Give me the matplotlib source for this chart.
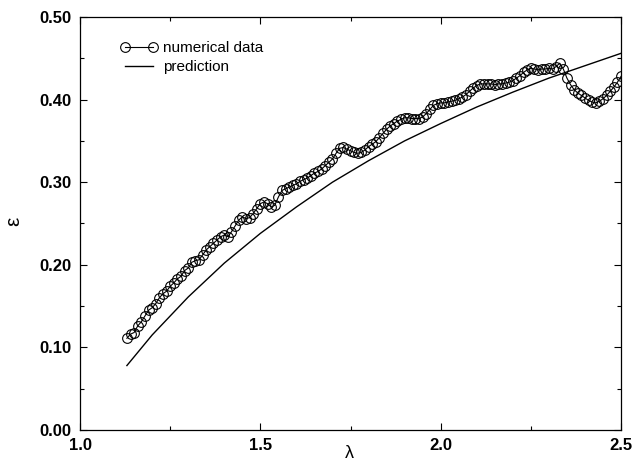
import matplotlib
matplotlib.use("Agg")
import matplotlib.pyplot as plt
from matplotlib.ticker import MultipleLocator, FormatStrFormatter

# numerical data (lambda, epsilon)
lam_data = [1.13, 1.14, 1.15, 1.16, 1.17, 1.18, 1.19, 1.20, 1.21, 1.22, 1.23, 1.24, 1.25, 1.26,
            1.27, 1.28, 1.29, 1.30, 1.31, 1.32, 1.33, 1.34, 1.35, 1.36, 1.37, 1.38, 1.39, 1.40,
            1.41, 1.42, 1.43, 1.44, 1.45, 1.46, 1.47, 1.48, 1.49, 1.50, 1.51, 1.52, 1.53, 1.54,
            1.55, 1.56, 1.57, 1.58, 1.59, 1.60, 1.61, 1.62, 1.63, 1.64, 1.65, 1.66, 1.67, 1.68,
            1.69, 1.70, 1.71, 1.72, 1.73, 1.74, 1.75, 1.76, 1.77, 1.78, 1.79, 1.80, 1.81, 1.82,
            1.83, 1.84, 1.85, 1.86, 1.87, 1.88, 1.89, 1.90, 1.91, 1.92, 1.93, 1.94, 1.95, 1.96,
            1.97, 1.98, 1.99, 2.00, 2.01, 2.02, 2.03, 2.04, 2.05, 2.06, 2.07, 2.08, 2.09, 2.10,
            2.11, 2.12, 2.13, 2.14, 2.15, 2.16, 2.17, 2.18, 2.19, 2.20, 2.21, 2.22, 2.23, 2.24,
            2.25, 2.26, 2.27, 2.28, 2.29, 2.30, 2.31, 2.32, 2.33, 2.34, 2.35, 2.36, 2.37, 2.38,
            2.39, 2.40, 2.41, 2.42, 2.43, 2.44, 2.45, 2.46, 2.47, 2.48, 2.49, 2.50]
eps_data = [0.111, 0.116, 0.118, 0.126, 0.131, 0.138, 0.145, 0.148, 0.153, 0.160, 0.165, 0.168, 0.174, 0.178,
            0.183, 0.186, 0.193, 0.196, 0.203, 0.205, 0.206, 0.212, 0.218, 0.222, 0.226, 0.230, 0.234, 0.236,
            0.234, 0.240, 0.247, 0.254, 0.258, 0.256, 0.257, 0.262, 0.268, 0.274, 0.276, 0.274, 0.270, 0.272,
            0.282, 0.290, 0.292, 0.294, 0.296, 0.298, 0.301, 0.303, 0.305, 0.308, 0.311, 0.313, 0.316, 0.320,
            0.324, 0.328, 0.335, 0.341, 0.342, 0.340, 0.338, 0.336, 0.335, 0.336, 0.339, 0.343, 0.346, 0.349,
            0.354, 0.359, 0.364, 0.368, 0.371, 0.374, 0.376, 0.378, 0.378, 0.377, 0.377, 0.377, 0.379, 0.383,
            0.388, 0.393, 0.395, 0.396, 0.396, 0.397, 0.398, 0.399, 0.401, 0.403, 0.406, 0.410, 0.414, 0.417,
            0.419, 0.419, 0.419, 0.419, 0.418, 0.419, 0.419, 0.420, 0.421, 0.423, 0.426, 0.429, 0.433, 0.436,
            0.438, 0.437, 0.436, 0.437, 0.437, 0.438, 0.437, 0.440, 0.444, 0.437, 0.426, 0.418, 0.412, 0.408,
            0.405, 0.402, 0.399, 0.397, 0.396, 0.398, 0.401, 0.405, 0.410, 0.415, 0.421, 0.428]

# prediction curve (lambda, epsilon)
lam_pred = [1.13, 1.2, 1.3, 1.4, 1.5, 1.6, 1.7, 1.8, 1.9, 2.0, 2.1, 2.2, 2.3, 2.4, 2.5]
eps_pred = [0.078, 0.115, 0.161, 0.202, 0.238, 0.270, 0.300, 0.326, 0.350, 0.371, 0.391, 0.409,
            0.426, 0.441, 0.456]

x_ticks = [1.0, 1.5, 2.0, 2.5]
y_ticks = [0.00, 0.10, 0.20, 0.30, 0.40, 0.50]

plt.rcParams['font.family'] = ['Liberation Sans', 'DejaVu Sans']

fig = plt.figure(figsize=(6.35, 4.69), dpi=100)
ax = fig.add_axes([0.126, 0.0832, 0.852, 0.8806])

ax.plot(lam_data, eps_data, '-o', color='black', lw=0.8, markersize=7,
        markerfacecolor='none', markeredgewidth=0.8, label='numerical data')
ax.plot(lam_pred, eps_pred, '-', color='black', lw=1.0, label='prediction')

ax.set_xlim(1.0, 2.5)
ax.set_ylim(0.0, 0.5)
ax.set_xticks(x_ticks)
ax.set_yticks(y_ticks)
ax.xaxis.set_major_formatter(FormatStrFormatter('%.1f'))
ax.yaxis.set_major_formatter(FormatStrFormatter('%.2f'))
ax.xaxis.set_minor_locator(MultipleLocator(0.25))
ax.yaxis.set_minor_locator(MultipleLocator(0.05))
ax.tick_params(which='both', direction='in', top=True, right=True, width=0.8)
ax.tick_params(which='major', length=5, pad=6, labelsize=12)
ax.tick_params(which='minor', length=3)
for lbl in ax.get_xticklabels() + ax.get_yticklabels():
    lbl.set_fontweight('bold')
for s in ax.spines.values():
    s.set_linewidth(0.9)

ax.set_xlabel('λ', fontsize=13, va='center')
ax.xaxis.set_label_coords(0.497, -0.058)
ax.set_ylabel('ε', fontsize=15, va='center')
ax.yaxis.set_label_coords(-0.122, 0.505)

leg = ax.legend(loc='upper left', bbox_to_anchor=(0.05, 0.975), frameon=False, numpoints=2,
                handlelength=2.4, handletextpad=0.35, labelspacing=0.35, fontsize=11)

fig.savefig('out.png', dpi=100)
